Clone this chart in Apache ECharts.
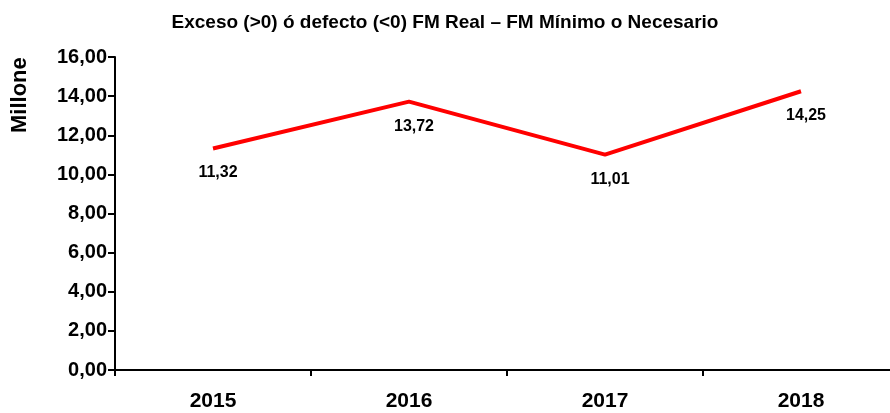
<!DOCTYPE html>
<html>
<head>
<meta charset="utf-8">
<script src="https://cdn.jsdelivr.net/npm/echarts@6/dist/echarts.min.js"></script>
<style>
    html, body {margin: 0; padding: 0; background: #fff;}
    #chart {width: 890px; height: 413px;}
</style>
</head>
<body>
<div id="chart"></div>
<script>
// data
var years = ['2015', '2016', '2017', '2018'];
var exceso = [11.32, 13.72, 11.01, 14.25];

var font = 'Liberation Sans, Arial, sans-serif';
function coma(v, d) {
    return v.toFixed(d).replace('.', ',');
}

var chart = echarts.init(document.getElementById('chart'));
var option = {
    animation: false,
    title: {
        text: 'Exceso (>0) ó defecto (<0) FM Real – FM Mínimo o Necesario',
        left: 'center',
        top: 8,
        textStyle: {fontFamily: font, fontSize: 19, fontWeight: 'bold', color: '#000'}
    },
    graphic: [{
        type: 'text',
        x: 20,
        y: 133,
        rotation: Math.PI / 2,
        style: {
            text: 'Millones',
            width: 84,
            overflow: 'truncate',
            ellipsis: '',
            fontFamily: font,
            fontSize: 22,
            fontWeight: 'bold',
            fill: '#000',
            textAlign: 'left',
            textVerticalAlign: 'middle'
        }
    }],
    grid: {
        left: 115,
        width: 784,
        top: 57,
        bottom: 43,
        outerBoundsMode: 'none'
    },
    xAxis: {
        type: 'category',
        data: years,
        boundaryGap: true,
        axisLine: {lineStyle: {color: '#000', width: 2}},
        axisTick: {show: true, length: 6, lineStyle: {color: '#000', width: 2}},
        axisLabel: {
            margin: 21,
            fontFamily: font,
            fontSize: 21,
            fontWeight: 'bold',
            color: '#000'
        },
        splitLine: {show: false}
    },
    yAxis: {
        type: 'value',
        min: 0,
        max: 16,
        interval: 2,
        axisLine: {show: true, lineStyle: {color: '#000', width: 2}},
        axisTick: {show: true, length: 7, lineStyle: {color: '#000', width: 2}},
        axisLabel: {
            margin: 8,
            fontFamily: font,
            fontSize: 20,
            fontWeight: 'bold',
            color: '#000',
            formatter: function (v) { return coma(v, 2); }
        },
        splitLine: {show: false}
    },
    series: [{
        name: 'Exceso',
        type: 'line',
        data: exceso,
        showSymbol: true,
        symbol: 'circle',
        symbolSize: 1,
        itemStyle: {color: 'rgba(255,0,0,0)'},
        lineStyle: {color: '#ff0000', width: 4},
        label: {
            show: true,
            position: 'bottom',
            distance: 16,
            offset: [5, 0],
            fontFamily: font,
            fontSize: 16,
            fontWeight: 'bold',
            color: '#000',
            formatter: function (p) { return coma(p.value, 2); }
        }
    }]
};
chart.setOption(option);
</script>
</body>
</html>
